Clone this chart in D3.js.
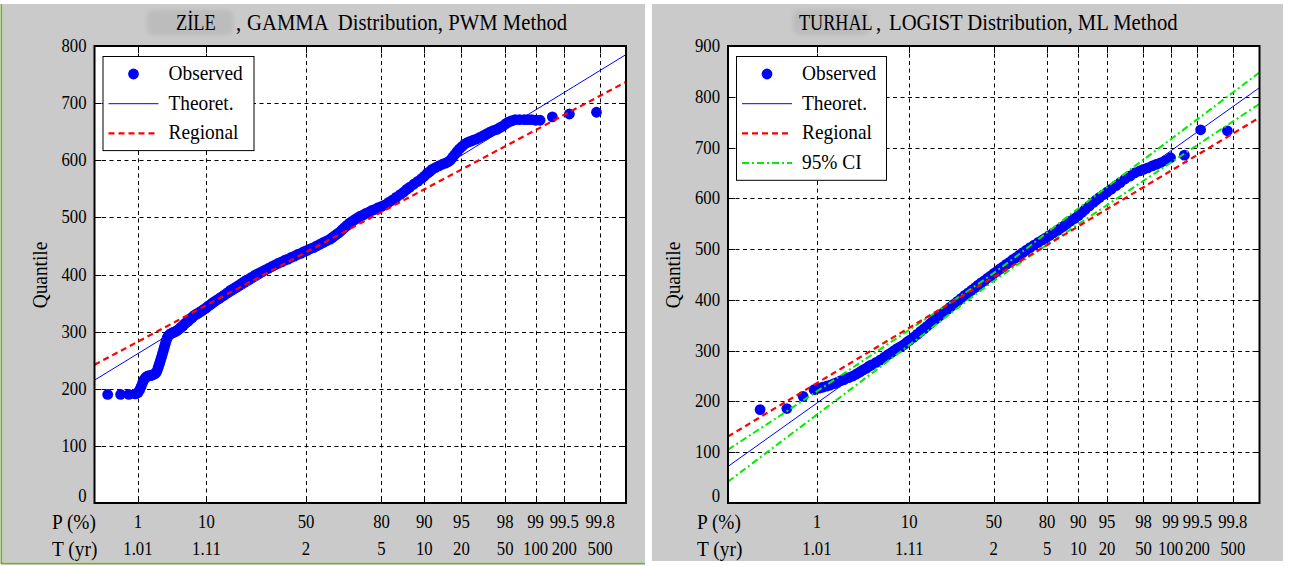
<!DOCTYPE html>
<html><head><meta charset="utf-8">
<script src="https://cdn.jsdelivr.net/npm/d3@7"></script>
<style>
body{margin:0;background:#fff;}
svg{display:block;}
text{font-family:"Liberation Serif","Times New Roman",serif;fill:#000;}
</style></head><body>
<svg id="c" width="1290" height="566"></svg>
<script>
// ---------------- DATA ----------------
const pTicks = [1, 10, 50, 80, 90, 95, 98, 99, 99.5, 99.8];
const pTickLabels = ["1", "10", "50", "80", "90", "95", "98", "99", "99.5", "99.8"];
const tTickLabels = ["1.01", "1.11", "2", "5", "10", "20", "50", "100", "200", "500"];
const pRange = [0.1, 99.9];

const zileYTicks = [0, 100, 200, 300, 400, 500, 600, 700, 800];
const turhalYTicks = [0, 100, 200, 300, 400, 500, 600, 700, 800, 900];

const zileSkew = 0.4; // skew of the gamma probability paper (x-axis)

const zileObsP = [0.22,0.44,0.66,0.89,1.0,1.08,1.15,1.22,1.3,1.4,1.5,1.6,1.7,1.8,1.9,2.0,2.1,2.18,2.26,2.34,2.42,2.5,2.58,2.66,2.74,2.82,2.9,2.98,3.06,3.15,3.25,3.35,3.5,3.65,3.8,3.95,4.1,4.3,4.5,4.7,4.9,5.1,5.3,5.55,5.8,6.05,6.3,6.6,6.9,7.2,7.6,8.0,8.4,8.8,9.2,9.6,10,10.5,11,11.5,12,12.7,13.5,14.2,15,16,17,18,19,20,21,22,23,24,25,26.5,28,29.5,31,32.5,34,35.5,37,38.5,40,41.5,43,44.5,46,47.5,49,50.5,52,53.5,55,56.5,58,59.5,61,62,63,64,65,66,67,68,69,70,71,72,73,74,75,76,77,78,79,80,81,82,83,84,85,85.8,86.5,87.2,88,88.8,89.5,90,90.5,90.9,91.3,91.8,92.3,92.8,93.2,93.5,93.8,94.05,94.3,94.55,94.8,95.05,95.3,95.55,95.8,96.05,96.3,96.55,96.8,97.0,97.2,97.4,97.6,97.75,97.9,98.03,98.15,98.27,98.4,98.55,98.7,98.8,98.9,99.0,99.1,99.33,99.56,99.78];
const zileObsQ = [190,190,190,191,193,198,204,210,216,220,222,223,223,224,225,226,228,231,236,241,246,251,256,261,266,271,276,281,285,289,292,294,296,297,298,299,300,301,303,305,307,309,311,314,316,318,320,323,325,328,330,332,334,336,338,340,342,345,347,350,352,355,358,361,364,368,372,375,378,381,384,387,390,392,395,399,402,405,408,411,414,417,420,422,425,427,430,432,435,437,440,442,445,447,450,453,456,459,462,465,468,471,474,478,482,486,490,493,496,499,502,504,507,509,512,514,517,519,522,526,530,535,540,544,549,553,558,563,568,572,577,580,584,587,590,593,595,597,600,605,610,615,620,624,628,631,633,635,637,640,643,646,649,652,654,657,660,664,667,669,671,671,671,671,671,670,670,676,681,684];
const zileTheoP = [0.1, 99.9], zileTheoQ = [215, 785];
const zileRegP = [0.1, 99.9], zileRegQ = [242, 737];

const turhalObsP = [0.23,0.46,0.70,0.93,1.05,1.16,1.28,1.4,1.55,1.7,1.85,2.0,2.25,2.5,2.75,3.0,3.25,3.5,3.75,4.0,4.5,5.0,5.5,6.0,6.5,7.0,7.5,8.0,8.5,9.0,9.5,10,11,12,13,14,15,16,17,18,19,20,21.5,23,24.5,26,28,30,32,34,36,38,40,42,44,46,48,50,52,54,56,58,60,62,64,66,68,70,72,74,76,78,79.5,81,82.5,84,85,86,87,88,89,90,90.8,91.5,92.3,93,93.5,94,94.5,95,95.5,96,96.4,96.8,97.2,97.5,97.8,98,98.2,98.4,98.55,98.7,98.85,99.0,99.3,99.54,99.77];
const turhalObsQ = [184,186,210,223,226,228,230,232,235,238,241,243,247,250,254,258,262,265,269,272,277,282,287,292,296,300,304,307,310,313,317,320,326,332,338,343,348,353,358,362,366,370,376,381,386,391,397,403,409,414,419,424,429,434,438,443,447,452,456,461,465,470,474,479,483,488,493,498,503,508,513,518,522,527,532,537,541,545,550,555,560,566,572,578,585,592,597,602,607,612,618,625,631,638,644,650,654,657,660,664,667,670,674,680,685,735,733];
const turhalTheoP = [0.1, 99.9], turhalTheoQ = [72, 818];
const turhalRegP = [0.1, 99.9], turhalRegQ = [131, 759];
const turhalCiP = [0.1, 1, 10, 50, 90, 99, 99.9];
const turhalCiLow = [42, 174, 311, 437, 549, 670, 786];
const turhalCiUp = [105, 220, 341, 453, 580, 716, 848];

// ---------------- HELPERS ----------------
function qnorm(p){
  const a=[-3.969683028665376e+01,2.209460984245205e+02,-2.759285104469687e+02,1.383577518672690e+02,-3.066479806614716e+01,2.506628277459239e+00];
  const b=[-5.447609879822406e+01,1.615858368580409e+02,-1.556989798598866e+02,6.680131188771972e+01,-1.328068155288572e+01];
  const c=[-7.784894002430293e-03,-3.223964580411365e-01,-2.400758277161838e+00,-2.549732539343734e+00,4.374664141464968e+00,2.938163982698783e+00];
  const d=[7.784695709041462e-03,3.224671290700398e-01,2.445134137142996e+00,3.754408661907416e+00];
  const pl=0.02425, ph=1-pl; let q,r;
  if(p<pl){q=Math.sqrt(-2*Math.log(p));return (((((c[0]*q+c[1])*q+c[2])*q+c[3])*q+c[4])*q+c[5])/((((d[0]*q+d[1])*q+d[2])*q+d[3])*q+1);}
  if(p>ph){q=Math.sqrt(-2*Math.log(1-p));return -(((((c[0]*q+c[1])*q+c[2])*q+c[3])*q+c[4])*q+c[5])/((((d[0]*q+d[1])*q+d[2])*q+d[3])*q+1);}
  q=p-0.5;r=q*q;return (((((a[0]*r+a[1])*r+a[2])*r+a[3])*r+a[4])*r+a[5])*q/(((((b[0]*r+b[1])*r+b[2])*r+b[3])*r+b[4])*r+1);
}
const gammaK = g => P => { const p=P/100, z=qnorm(p), k=g/6; return (2/g)*(Math.pow(1+k*(z-k),3)-1); };
const logit = P => { const p=P/100; return Math.log(p/(1-p)); };

const SX = 0.88; // horizontal squeeze of the lettering
function txt(parent, x, y, s, size, anchor, rot, sx){
  return parent.append("text")
    .attr("transform", `translate(${x},${y})` + (rot?` rotate(${rot})`:"") + ` scale(${sx||SX},1)`)
    .attr("font-size", size).attr("text-anchor", anchor||"start")
    .attr("xml:space","preserve").style("white-space","pre").text(s);
}

const svg = d3.select("#c");
const defs = svg.append("defs");
defs.append("filter").attr("id","blur").attr("x","-30%").attr("y","-50%").attr("width","160%").attr("height","200%")
  .append("feGaussianBlur").attr("stdDeviation",2.2);

// background
svg.append("rect").attr("x",0).attr("y",0).attr("width",1290).attr("height",566).attr("fill","#fff");
svg.append("rect").attr("x",3).attr("y",4).attr("width",642).attr("height",558).attr("fill","#cacaca");
svg.append("rect").attr("x",652).attr("y",4).attr("width",631).attr("height",557).attr("fill","#cacaca");
svg.append("line").attr("x1",1.5).attr("x2",1.5).attr("y1",4).attr("y2",564).attr("stroke","#7da04a").attr("stroke-width",2);
svg.append("line").attr("x1",1).attr("x2",645).attr("y1",563.5).attr("y2",563.5).attr("stroke","#7da04a").attr("stroke-width",2);

function panel(cfg){
  const g = svg.append("g");
  const L=cfg.left, R=cfg.right, T=46, B=503;
  const t = cfg.transform;
  const xs = d3.scaleLinear().domain(pRange.map(t)).range([L,R]);
  const X = P => xs(t(P));
  const ys = d3.scaleLinear().domain([0, cfg.yMax]).range([B,T]);

  g.append("rect").attr("x",L).attr("y",T).attr("width",R-L).attr("height",B-T).attr("fill","#fff");

  // grid
  const grid = g.append("g").attr("stroke","#000").attr("stroke-width",1).attr("stroke-dasharray","4,3.5");
  grid.selectAll("line.v").data(pTicks).join("line").attr("class","v")
    .attr("x1",d=>Math.round(X(d))+0.5).attr("x2",d=>Math.round(X(d))+0.5).attr("y1",T).attr("y2",B);
  grid.selectAll("line.h").data(cfg.yTicks.slice(1,-1)).join("line").attr("class","h")
    .attr("y1",d=>Math.round(ys(d))+0.5).attr("y2",d=>Math.round(ys(d))+0.5).attr("x1",L).attr("x2",R);

  const clip = "clip"+cfg.id;
  defs.append("clipPath").attr("id",clip).append("rect").attr("x",L).attr("y",T).attr("width",R-L).attr("height",B-T);
  const plot = g.append("g").attr("clip-path",`url(#${clip})`);
  const line = d3.line().x(d=>X(d[0])).y(d=>ys(d[1]));

  // observed
  plot.append("g").attr("fill","#0000ff").selectAll("circle").data(d3.zip(cfg.obsP,cfg.obsQ)).join("circle")
    .attr("cx",d=>X(d[0])).attr("cy",d=>ys(d[1])).attr("r",5.4);
  if(cfg.ciP){
    [cfg.ciUp, cfg.ciLow].forEach(arr=>
      plot.append("path").datum(d3.zip(cfg.ciP,arr)).attr("d",d3.line().curve(d3.curveMonotoneX).x(d=>X(d[0])).y(d=>ys(d[1])))
        .attr("fill","none").attr("stroke","#00ee00").attr("stroke-width",2).attr("stroke-dasharray","7,3,2,3"));
  }
  plot.append("path").datum(d3.zip(cfg.theoP,cfg.theoQ)).attr("d",line).attr("fill","none").attr("stroke","#0000ff").attr("stroke-width",1);
  plot.append("path").datum(d3.zip(cfg.regP,cfg.regQ)).attr("d",line).attr("fill","none").attr("stroke","#ff0000").attr("stroke-width",2.2).attr("stroke-dasharray","6,4");

  // frame & ticks
  const tk = g.append("g").attr("stroke","#000").attr("stroke-width",1);
  pTicks.forEach(p=>{const x=Math.round(X(p))+0.5;
    tk.append("line").attr("x1",x).attr("x2",x).attr("y1",B).attr("y2",B-7);
    tk.append("line").attr("x1",x).attr("x2",x).attr("y1",T).attr("y2",T+7);});
  cfg.yTicks.forEach(v=>{const y=Math.round(ys(v))+0.5;
    tk.append("line").attr("x1",L).attr("x2",L+7).attr("y1",y).attr("y2",y);
    tk.append("line").attr("x1",R).attr("x2",R-7).attr("y1",y).attr("y2",y);});
  g.append("rect").attr("x",L).attr("y",T).attr("width",R-L).attr("height",B-T).attr("fill","none").attr("stroke","#000").attr("stroke-width",2);

  // y labels
  cfg.yTicks.forEach(v=>txt(g, L-8, ys(v)+(v===0?-1:6), String(v), 19, "end"));
  txt(g, cfg.ylabX, 275, "Quantile", 22, "middle", -90);

  // x labels
  txt(g, cfg.rowX, 529, "P (%)", 22);
  txt(g, cfg.rowX, 556, "T (yr)", 22);
  pTicks.forEach((p,i)=>{ txt(g, X(p), 528, pTickLabels[i], 19, "middle"); txt(g, X(p), 555, tTickLabels[i], 19, "middle"); });

  // title
  g.append("rect").attr("x",cfg.blur[0]).attr("y",10).attr("width",cfg.blur[1]).attr("height",25).attr("rx",6).attr("fill","#bcbcbc").attr("filter","url(#blur)");
  txt(g, cfg.title[0], 30, cfg.title[1], 23, "start", 0, cfg.title[5]);
  txt(g, cfg.title[2], 30, ",", 23, "start", 0, 0.9);
  txt(g, cfg.title[3], 30, cfg.title[4], 23, "start", 0, 0.9);

  // legend
  const lg = g.append("g");
  const lx=L+8, items = cfg.legend;
  lg.append("rect").attr("x",lx+0.5).attr("y",56.5).attr("width",cfg.legW).attr("height",items.length*29.7+5).attr("fill","#fff").attr("stroke","#000").attr("stroke-width",1);
  items.forEach((it,i)=>{
    const y = 74 + i*29.7;
    if(it.type==="dot") lg.append("circle").attr("cx",lx+31).attr("cy",y).attr("r",5.4).attr("fill","#0000ff");
    else lg.append("line").attr("x1",lx+6).attr("x2",lx+56).attr("y1",y).attr("y2",y).attr("stroke",it.color).attr("stroke-width",it.w).attr("stroke-dasharray",it.dash||null);
    txt(lg, lx+66, y+6, it.label, 22);
  });
}

const legBase = [
  {type:"dot",label:"Observed"},
  {type:"line",label:"Theoret.",color:"#0000ff",w:1},
  {type:"line",label:"Regional",color:"#ff0000",w:2.2,dash:"6,4"}
];

panel({id:"a", left:94.5, right:626, yMax:800, yTicks:zileYTicks, transform:gammaK(zileSkew),
  obsP:zileObsP, obsQ:zileObsQ, theoP:zileTheoP, theoQ:zileTheoQ, regP:zileRegP, regQ:zileRegQ,
  ylabX:47, rowX:52, blur:[147,86], title:[176,"ZİLE",236,247,"GAMMA  Distribution, PWM Method",0.8],
  legend:legBase, legW:151});

panel({id:"b", left:728, right:1259.5, yMax:900, yTicks:turhalYTicks, transform:logit,
  obsP:turhalObsP, obsQ:turhalObsQ, theoP:turhalTheoP, theoQ:turhalTheoQ, regP:turhalRegP, regQ:turhalRegQ,
  ciP:turhalCiP, ciLow:turhalCiLow, ciUp:turhalCiUp,
  ylabX:680, rowX:697, blur:[793,76], title:[799,"TURHAL",876,889,"LOGIST Distribution, ML Method",0.79],
  legend:legBase.concat([{type:"line",label:"95% CI",color:"#00ee00",w:2,dash:"7,3,2,3"}]), legW:150});
</script>
</body></html>
